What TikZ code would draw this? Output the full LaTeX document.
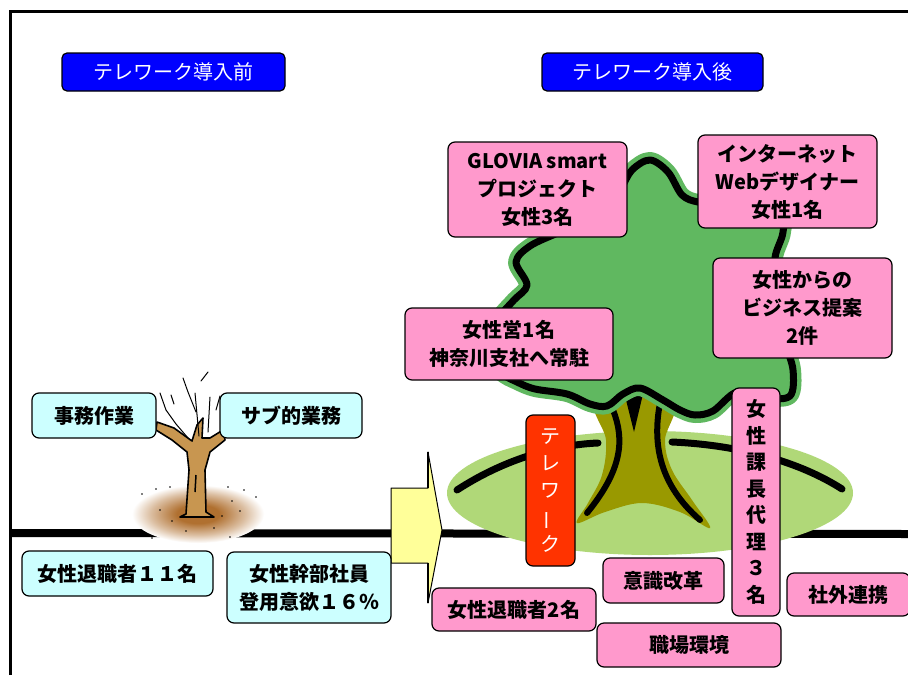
\documentclass[tikz,border=0pt]{standalone}
\usepackage{fontspec}
\newfontfamily\jp{Noto Sans CJK JP}
\definecolor{bluebox}{RGB}{0,0,255}
\definecolor{cyanfill}{RGB}{204,255,255}
\definecolor{pinkfill}{RGB}{255,153,204}
\definecolor{redfill}{RGB}{255,51,0}
\definecolor{arrowfill}{RGB}{255,255,153}
\definecolor{leaf}{RGB}{96,184,96}
\definecolor{lawn}{RGB}{176,216,120}
\definecolor{bark}{RGB}{153,153,0}
\definecolor{deadbark}{RGB}{200,150,80}
\definecolor{soil}{RGB}{176,112,48}
\pgfdeclareradialshading{soilshade}{\pgfpoint{0bp}{0bp}}{%
  color(0bp)=(soil); color(8bp)=(soil); color(18bp)=(soil!45); color(25bp)=(white); color(50bp)=(white)}
% long vowel mark turned upright for vertical labels
\newcommand{\vchoon}{\rotatebox[origin=c]{90}{ー}}
\tikzset{
  label box/.style={draw=black, line width=1.2pt, rounded corners=7pt, align=center,
    inner sep=0pt, font=\jp\bfseries\fontsize{20}{28}\selectfont},
  cyanbox/.style={label box, fill=cyanfill},
  pinkbox/.style={label box, fill=pinkfill},
  titlebox/.style={label box, fill=bluebox, text=white, rounded corners=5pt,
    font=\jp\fontsize{20}{24}\selectfont},
  vbox/.style={label box, font=\jp\bfseries\fontsize{20}{26.5}\selectfont},
  heavy/.style={line width=7pt, line cap=round, line join=round},
  twig/.style={line width=1pt, line cap=round},
}
\begin{document}
\begin{tikzpicture}[x=1pt,y=-1pt]
\useasboundingbox (0,0) rectangle (908,675);
\fill[white] (0,0) rectangle (908,675);

% frame
\draw[line width=3pt] (10,675) -- (10,11) -- (910,11);

% ground line
\draw[line width=8pt] (12,533) -- (908,534);

% ---- bare tree ----
\shade[shading=soilshade] (198,514) ellipse [x radius=66pt, y radius=29pt];
\foreach \p in {(142,494),(156,489),(170,487),(228,487),(244,490),(256,497),
  (160,510),(172,521),(222,516),(240,511),(232,501),(152,538),(230,537),(214,528),(186,531)}
  \fill \p circle (0.9pt);
\filldraw[fill=deadbark, draw=black, line width=1.6pt, line join=round]
  (186,514) -- (189,470) -- (187,452) -- (172,440) -- (156,430) -- (157,422)
  -- (174,428) -- (192,441) -- (197,425) -- (203,418) -- (202,438)
  -- (210,438) -- (223,430) -- (225,440) -- (210,452) -- (205,470) -- (206,512)
  -- (214,517) -- (180,517) -- cycle;
\draw[line width=1.5pt] (196,475) -- (195,492);
\draw[twig] (160,393) -- (166,410) -- (176,424) -- (188,438);
\draw[twig] (183,378) -- (188,392) -- (196,412);
\draw[twig] (195,393) -- (199,436);
\draw[twig] (210,397) -- (208,432);
\draw[twig] (201,381) -- (208,372);
\draw[twig] (216,410) -- (220,396);
\draw[twig] (171,395) -- (174,404);

% ---- growing tree ----
\fill[lawn] (650,493) ellipse [x radius=203pt, y radius=62pt];
\draw[heavy] (457,490) .. controls (500,462) and (550,445) .. (598,443);
\draw[heavy] (672,442) .. controls (740,445) and (800,462) .. (842,489);
% trunk
\fill[bark] plot[smooth cycle, tension=0.6] coordinates {
  (597,400) (606,440) (602,475) (588,503) (577,523) (605,512) (642,503)
  (680,512) (710,528) (692,500) (672,470) (665,440) (672,400)};
\draw[heavy, line width=6pt] (613,410) .. controls (625,440) and (622,470) .. (587,513);
\draw[heavy, line width=6pt] (660,403) .. controls (652,445) and (660,485) .. (700,520);
\fill (625,396) -- (643,394) -- (634,432) -- cycle;
% canopy
\path[fill=leaf, draw=leaf, line width=16pt, line join=round]
  plot[smooth cycle, tension=0.55] coordinates {
  (560,232) (530,246) (516,262) (527,285) (514,300) (498,318) (480,345) (500,372)
  (517,382) (535,389) (567,394) (590,404) (607,406) (623,394) (640,388) (663,400)
  (680,410) (695,415) (713,411) (737,392) (765,398) (790,396) (793,370) (785,340)
  (778,290) (775,258) (783,232) (780,205) (720,203) (698,202) (682,195) (668,172)
  (650,160) (632,170) (620,190) (600,215)};
\draw[line width=7pt, line join=round]
  plot[smooth cycle, tension=0.55] coordinates {
  (560,232) (530,246) (516,262) (527,285) (514,300) (498,318) (480,345) (500,372)
  (517,382) (535,389) (567,394) (590,404) (607,406) (623,394) (640,388) (663,400)
  (680,410) (695,415) (713,411) (737,392) (765,398) (790,396) (793,370) (785,340)
  (778,290) (775,258) (783,232) (780,205) (720,203) (698,202) (682,195) (668,172)
  (650,160) (632,170) (620,190) (600,215)};

% ---- transition arrow ----
\filldraw[fill=arrowfill, draw=black, line width=1pt, line join=round]
  (391,488) -- (428,488) -- (428,452) -- (442,530) -- (428,603) -- (428,563) -- (391,563) -- cycle;
\draw[line width=2.5pt] (428,452) -- (428,488) (428,563) -- (428,603);

% ---- titles ----
\node[titlebox, minimum width=223pt, minimum height=38pt] (before) at (173.5,72) {テレワーク導入前};
\node[titlebox, minimum width=221pt, minimum height=38pt] (after) at (652.5,72) {テレワーク導入後};

% ---- before ----
\node[cyanbox, minimum width=124pt, minimum height=45pt] (clerical) at (94,415.5) {事務作業};
\node[cyanbox, minimum width=142pt, minimum height=45pt] (support) at (291,415.5) {サブ的業務};
\node[cyanbox, minimum width=191pt, minimum height=45pt] (quit11) at (117.5,573.5) {女性退職者１１名};
\node[cyanbox, minimum width=164pt, minimum height=71pt] (promo) at (309,587.5) {女性幹部社員\\登用意欲１６％};

% ---- after ----
\node[pinkbox, minimum width=179pt, minimum height=95pt] (glovia) at (537.5,189.5) {GLOVIA smart\\プロジェクト\\女性3名};
\node[pinkbox, minimum width=179pt, minimum height=93pt] (web) at (787.5,181.5) {インターネット\\Webデザイナー\\女性1名};
\node[pinkbox, minimum width=179pt, minimum height=100pt] (proposal) at (802.5,308) {女性からの\\ビジネス提案\\2件};
\node[pinkbox, minimum width=208pt, minimum height=72pt] (sales) at (509,344) {女性営1名\\神奈川支社へ常駐};
\node[vbox, fill=redfill, text=white, font=\jp\fontsize{20}{27}\selectfont,
  minimum width=49pt, minimum height=151pt] (telework) at (550.5,490.5) {テ\\レ\\ワ\\\vchoon\\ク};
\node[vbox, fill=pinkfill, minimum width=48pt, minimum height=228pt] (deputy) at (756,502)
  {女\\性\\課\\長\\代\\理\\３\\名};
\node[pinkbox, minimum width=121pt, minimum height=45pt] (mind) at (663.5,580.5) {意識改革};
\node[pinkbox, minimum width=123pt, minimum height=43pt] (external) at (848.5,594.5) {社外連携};
\node[pinkbox, minimum width=164pt, minimum height=43pt] (quit2) at (514,609.5) {女性退職者2名};
\node[pinkbox, minimum width=184pt, minimum height=44pt] (workplace) at (689,645) {職場環境};
\end{tikzpicture}
\end{document}
